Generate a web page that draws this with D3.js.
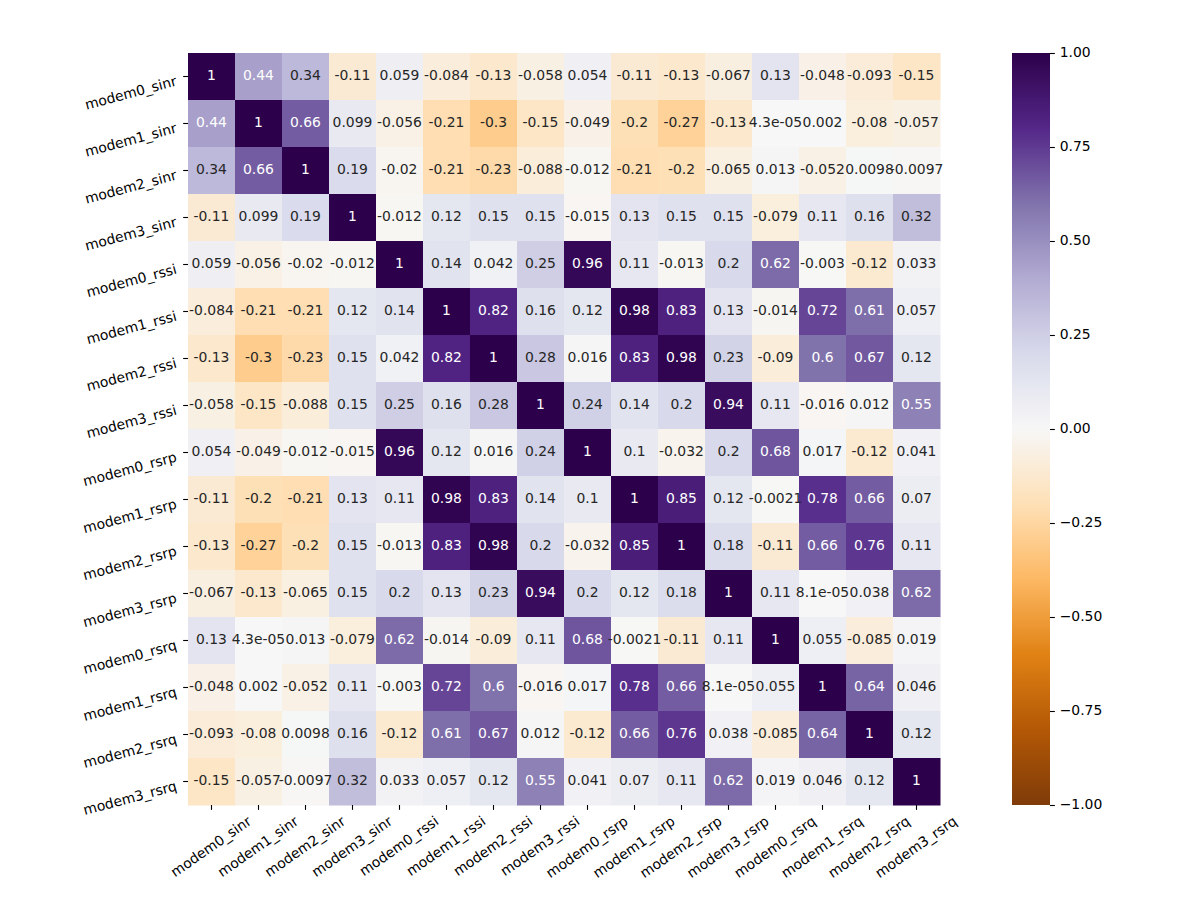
<!DOCTYPE html>
<html><head><meta charset="utf-8">
<script src="https://cdn.jsdelivr.net/npm/d3@7"></script>
<style>body{margin:0;background:#fff}svg{display:block}</style>
</head><body>
<svg id="c" width="1192" height="898"></svg>
<script>
const labels = ["modem0_sinr","modem1_sinr","modem2_sinr","modem3_sinr","modem0_rssi","modem1_rssi","modem2_rssi","modem3_rssi","modem0_rsrp","modem1_rsrp","modem2_rsrp","modem3_rsrp","modem0_rsrq","modem1_rsrq","modem2_rsrq","modem3_rsrq"];
const corr = [
  [1, 0.44, 0.34, -0.11, 0.059, -0.084, -0.13, -0.058, 0.054, -0.11, -0.13, -0.067, 0.13, -0.048, -0.093, -0.15],
  [0.44, 1, 0.66, 0.099, -0.056, -0.21, -0.3, -0.15, -0.049, -0.2, -0.27, -0.13, 4.3e-05, 0.002, -0.08, -0.057],
  [0.34, 0.66, 1, 0.19, -0.02, -0.21, -0.23, -0.088, -0.012, -0.21, -0.2, -0.065, 0.013, -0.052, 0.0098, -0.0097],
  [-0.11, 0.099, 0.19, 1, -0.012, 0.12, 0.15, 0.15, -0.015, 0.13, 0.15, 0.15, -0.079, 0.11, 0.16, 0.32],
  [0.059, -0.056, -0.02, -0.012, 1, 0.14, 0.042, 0.25, 0.96, 0.11, -0.013, 0.2, 0.62, -0.003, -0.12, 0.033],
  [-0.084, -0.21, -0.21, 0.12, 0.14, 1, 0.82, 0.16, 0.12, 0.98, 0.83, 0.13, -0.014, 0.72, 0.61, 0.057],
  [-0.13, -0.3, -0.23, 0.15, 0.042, 0.82, 1, 0.28, 0.016, 0.83, 0.98, 0.23, -0.09, 0.6, 0.67, 0.12],
  [-0.058, -0.15, -0.088, 0.15, 0.25, 0.16, 0.28, 1, 0.24, 0.14, 0.2, 0.94, 0.11, -0.016, 0.012, 0.55],
  [0.054, -0.049, -0.012, -0.015, 0.96, 0.12, 0.016, 0.24, 1, 0.1, -0.032, 0.2, 0.68, 0.017, -0.12, 0.041],
  [-0.11, -0.2, -0.21, 0.13, 0.11, 0.98, 0.83, 0.14, 0.1, 1, 0.85, 0.12, -0.0021, 0.78, 0.66, 0.07],
  [-0.13, -0.27, -0.2, 0.15, -0.013, 0.83, 0.98, 0.2, -0.032, 0.85, 1, 0.18, -0.11, 0.66, 0.76, 0.11],
  [-0.067, -0.13, -0.065, 0.15, 0.2, 0.13, 0.23, 0.94, 0.2, 0.12, 0.18, 1, 0.11, 8.1e-05, 0.038, 0.62],
  [0.13, 4.3e-05, 0.013, -0.079, 0.62, -0.014, -0.09, 0.11, 0.68, -0.0021, -0.11, 0.11, 1, 0.055, -0.085, 0.019],
  [-0.048, 0.002, -0.052, 0.11, -0.003, 0.72, 0.6, -0.016, 0.017, 0.78, 0.66, 8.1e-05, 0.055, 1, 0.64, 0.046],
  [-0.093, -0.08, 0.0098, 0.16, -0.12, 0.61, 0.67, 0.012, -0.12, 0.66, 0.76, 0.038, -0.085, 0.64, 1, 0.12],
  [-0.15, -0.057, -0.0097, 0.32, 0.033, 0.057, 0.12, 0.55, 0.041, 0.07, 0.11, 0.62, 0.019, 0.046, 0.12, 1]
];
const cbarTicks = [1, 0.75, 0.5, 0.25, 0, -0.25, -0.5, -0.75, -1];
const puorColors = ["#7f3b08","#b35806","#e08214","#fdb863","#fee0b6","#f7f7f7","#d8daeb","#b2abd2","#8073ac","#542788","#2d004b"];

const FONT = "DejaVu Sans, sans-serif";
const FS = 13.9;
const ASC = 10.56, DESC = 2.9;
const TICK = 4.86, PAD = 4.86;

const svg = d3.select("#c");
const plotLeft = 188, plotTop = 53, plotSize = 752;
const cbX = 1012, cbW = 38;

const color = d3.scaleLinear()
  .domain(d3.range(11).map(i => -1 + i * 0.2))
  .range(puorColors)
  .interpolate(d3.interpolateRgb)
  .clamp(true);

const x = d3.scaleBand().domain(labels).range([plotLeft, plotLeft + plotSize]);
const y = d3.scaleBand().domain(labels).range([plotTop, plotTop + plotSize]);

function fmt(v) {
  if (v === 0) return "0";
  const a = Math.abs(v);
  const e = Math.floor(Math.log10(a));
  if (e < -4 || e >= 2) {
    let [m, ex] = v.toExponential(1).split("e");
    m = m.replace(/\.0$/, "");
    const sign = ex[0] === "-" ? "-" : "+";
    let d = ex.replace(/^[+-]/, "");
    if (d.length < 2) d = "0" + d;
    return m + "e" + sign + d;
  }
  return String(parseFloat(v.toPrecision(2)));
}
function lum(c) {
  const r = d3.rgb(c);
  const f = v => { v /= 255; return v <= 0.03928 ? v / 12.92 : Math.pow((v + 0.055) / 1.055, 2.4); };
  return 0.2126 * f(r.r) + 0.7152 * f(r.g) + 0.0722 * f(r.b);
}

const cells = [];
corr.forEach((row, i) => row.forEach((v, j) => cells.push({ r: labels[i], c: labels[j], v })));

const g = svg.append("g");
g.selectAll("rect").data(cells).join("rect")
  .attr("x", d => x(d.c)).attr("y", d => y(d.r))
  .attr("width", x.bandwidth() + 0.5).attr("height", y.bandwidth() + 0.5)
  .attr("fill", d => color(d.v));

g.selectAll("text").data(cells).join("text")
  .attr("x", d => x(d.c) + x.bandwidth() / 2)
  .attr("y", d => y(d.r) + y.bandwidth() / 2 + (ASC - DESC) / 2)
  .attr("text-anchor", "middle")
  .attr("font-family", FONT).attr("font-size", FS)
  .attr("fill", d => lum(color(d.v)) > 0.408 ? "#262626" : "#ffffff")
  .text(d => fmt(d.v));

// Y axis
const yAx = svg.append("g").attr("transform", `translate(${plotLeft},0)`)
  .call(d3.axisLeft(y).tickSize(TICK).tickSizeOuter(0));
yAx.select(".domain").remove();
yAx.selectAll(".tick line").attr("stroke", "#000").attr("stroke-width", 1.1);
const thY = 15 * Math.PI / 180;
yAx.selectAll(".tick text")
  .attr("x", null).attr("dy", null).attr("y", null)
  .attr("font-family", FONT).attr("font-size", FS).attr("fill", "#000")
  .attr("text-anchor", "end")
  .attr("transform", `translate(${-(TICK + PAD) - DESC * Math.sin(thY)},${-DESC / 2 + ASC * Math.cos(thY)}) rotate(-15)`);

// X axis
const xAx = svg.append("g").attr("transform", `translate(0,${plotTop + plotSize})`)
  .call(d3.axisBottom(x).tickSize(TICK).tickSizeOuter(0));
xAx.select(".domain").remove();
xAx.selectAll(".tick line").attr("stroke", "#000").attr("stroke-width", 1.1);
const thX = 35 * Math.PI / 180;
xAx.selectAll(".tick text")
  .attr("x", 0).attr("dy", null)
  .attr("font-family", FONT).attr("font-size", FS).attr("fill", "#000")
  .attr("text-anchor", "middle")
  .attr("y", (ASC - DESC) / 2)
  .each(function () {
    const L = this.getComputedTextLength();
    const Hb = L * Math.sin(thX) + (ASC + DESC) * Math.cos(thX);
    d3.select(this).attr("transform", `translate(0,${TICK + PAD + Hb / 2}) rotate(-35)`);
  });

// Colorbar
const cbScale = d3.scaleLinear().domain([-1, 1]).range([plotTop + plotSize, plotTop]);
const defs = svg.append("defs");
const grad = defs.append("linearGradient").attr("id", "cbg")
  .attr("x1", 0).attr("y1", 1).attr("x2", 0).attr("y2", 0);
d3.range(0, 101).forEach(k => {
  grad.append("stop").attr("offset", k / 100).attr("stop-color", color(-1 + 2 * k / 100));
});
svg.append("rect").attr("x", cbX).attr("y", plotTop).attr("width", cbW).attr("height", plotSize)
  .attr("fill", "url(#cbg)");
const cbAx = svg.append("g").attr("transform", `translate(${cbX + cbW},0)`)
  .call(d3.axisRight(cbScale).tickValues(cbarTicks).tickSize(TICK).tickSizeOuter(0)
    .tickFormat(d => d3.format(".2f")(d).replace("-", "\u2212")));
cbAx.select(".domain").remove();
cbAx.selectAll(".tick line").attr("stroke", "#000").attr("stroke-width", 1.1);
cbAx.selectAll(".tick text")
  .attr("x", TICK + PAD).attr("dy", null).attr("y", (ASC - DESC) / 2)
  .attr("font-family", FONT).attr("font-size", FS).attr("fill", "#000");
</script>
</body></html>
